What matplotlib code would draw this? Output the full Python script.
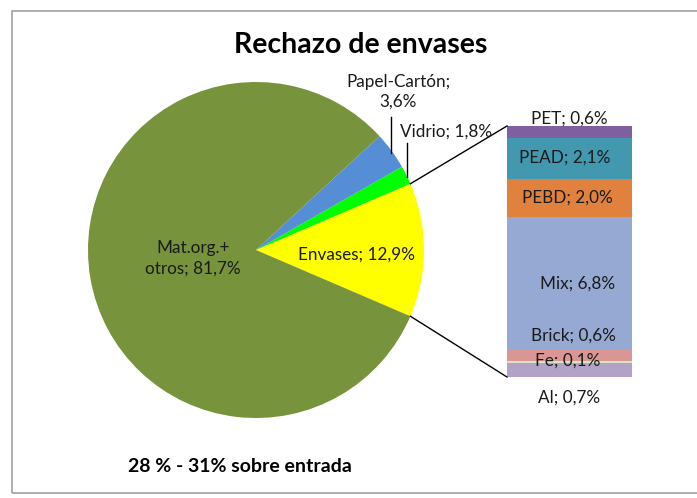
import matplotlib
matplotlib.use("Agg")
import matplotlib.pyplot as plt
from matplotlib.patches import Rectangle
import numpy as np

plt.rcParams['font.family'] = ['Lato', 'DejaVu Sans']

# Data
pie_labels = ["Envases", "Vidrio", "Papel-Cartón", "Mat.org.+\notros"]
pie_values = [12.9, 1.8, 3.6, 81.7]
pie_colors = ["#FFFF00", "#00FF00", "#558ED5", "#77933C"]

bar_labels = ["Al", "Fe", "Brick", "Mix", "PEBD", "PEAD", "PET"]
bar_values = [0.7, 0.1, 0.6, 6.8, 2.0, 2.1, 0.6]
bar_colors = ["#B3A2C7", "#D7E4BD", "#D99694", "#95A9D2", "#E0823D", "#4198AF", "#7F5F9F"]

title = "Rechazo de envases"
note = "28 % - 31% sobre entrada"

W, H = 697, 498
fig = plt.figure(figsize=(W / 100, H / 100), dpi=100)
ax = fig.add_axes([0, 0, 1, 1])
ax.set_xlim(0, W)
ax.set_ylim(0, H)
ax.set_aspect('equal')
ax.axis('off')

def fmt(v):
    return f"{v:.1f}".replace('.', ',') + "%"

# frame
ax.add_patch(Rectangle((12, 5), 700, 482, fill=False, edgecolor="#A0A0A0", lw=1.2))

# Pie
cx, cy, R = 256, 248, 168
start = -pie_values[0] / 100 * 360 / 2
ax.pie(pie_values, colors=pie_colors, startangle=start, counterclock=True,
       center=(cx, cy), radius=R, wedgeprops=dict(linewidth=0))
ax.set_xlim(0, W)
ax.set_ylim(0, H)
ax.axis('off')

# Bar (pie of pie)
bx0, bw = 507, 125
btop, bbot = H - 126, H - 377
scale = (btop - bbot) / sum(bar_values)
bottoms = np.concatenate([[0], np.cumsum(bar_values)[:-1]])
ax.bar(bx0 + bw / 2, [v * scale for v in bar_values], width=bw,
       bottom=[bbot + b * scale for b in bottoms], color=bar_colors, linewidth=0)

# connector lines
a = np.deg2rad(pie_values[0] / 100 * 360 / 2)
ax.plot([cx + R * np.cos(a), bx0], [cy + R * np.sin(a), btop], color="black", lw=1)
ax.plot([cx + R * np.cos(-a), bx0], [cy + R * np.sin(-a), bbot], color="black", lw=1)

fs = 12.3
tc = "#1A1A1A"
# pie labels
ax.text(193, H - 258, f"{pie_labels[3]}; {fmt(pie_values[3])}", ha='center', va='center',
        fontsize=fs, linespacing=1.35, color=tc)
ax.text(356, H - 255, f"{pie_labels[0]}; {fmt(pie_values[0])}", ha='center', va='center',
        fontsize=fs, color=tc)
ax.text(398, H - 92, f"{pie_labels[2]};\n{fmt(pie_values[2])}", ha='center', va='center',
        fontsize=fs, linespacing=1.25, color=tc)
ax.plot([391, 391], [H - 117, H - 153], color="black", lw=1)
ax.text(446, H - 132, f"{pie_labels[1]}; {fmt(pie_values[1])}", ha='center', va='center',
        fontsize=fs, color=tc)
ax.plot([407, 407], [H - 143, H - 177], color="black", lw=1)

# bar labels (offsets in pixels from segment centre)
offsets = {"Al": -27, "Fe": 2, "Brick": 20, "Mix": 0, "PEBD": 0, "PEAD": 0, "PET": 13}
xoffs = {"Al": 0, "Fe": -2, "Brick": 4, "Mix": 8, "PEBD": -2, "PEAD": -5, "PET": 0}
for lab, v, b in zip(bar_labels, bar_values, bottoms):
    yc = bbot + (b + v / 2) * scale + offsets[lab]
    ax.text(bx0 + bw / 2 + xoffs[lab], yc, f"{lab}; {fmt(v)}", ha='center', va='center',
            fontsize=fs, color=tc)

ax.text(361, H - 45, title, ha='center', va='center', fontsize=20.5, fontweight='bold')
ax.text(239.5, H - 466, note, ha='center', va='center', fontsize=14, fontweight='bold')

fig.savefig("out.png", dpi=100)
